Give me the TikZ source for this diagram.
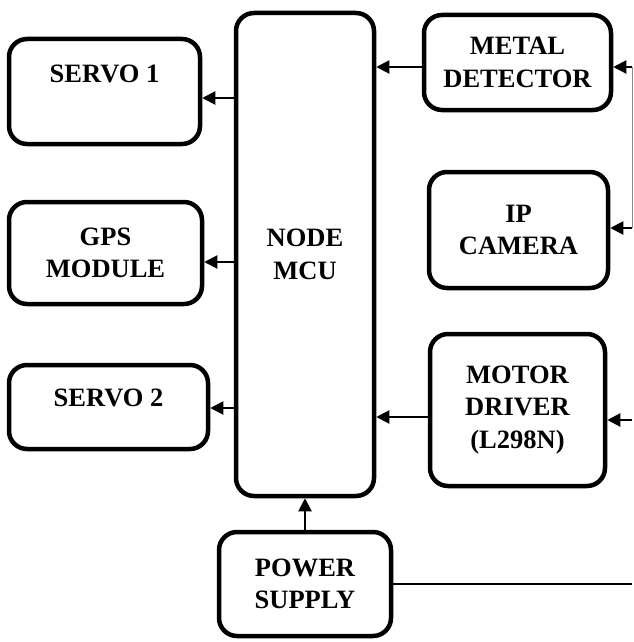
\documentclass[tikz,border=0pt]{standalone}
\usepackage{fontspec}
\setmainfont{Liberation Serif}
\usetikzlibrary{arrows.meta,positioning,calc}
\tikzset{
  blktext/.style={align=center, font=\fontsize{26.5}{32.5}\selectfont\bfseries},
  blkbox/.style={draw, line width=4.5pt, rounded corners=18pt, inner sep=0pt, blktext},
  blkarrow/.style={-{Triangle[length=13pt,width=13pt]}, line width=2pt},
  blkfeed/.style={draw=black!45, line width=1pt}
}
\begin{document}
\begin{tikzpicture}[x=1pt,y=-1pt]
\useasboundingbox (0,0) rectangle (633,642);

\node[blkbox, minimum width=191pt, minimum height=105pt, label={[blktext, yshift=18pt]center:SERVO 1}] (servoA) at (104.5,91.5) {};
\node[blkbox, minimum width=193pt, minimum height=102pt] (gps) at (105.5,253) {GPS\\MODULE};
\node[blkbox, minimum width=199pt, minimum height=84pt, label={[blktext, yshift=9pt]center:SERVO 2}] (servoB) at (108.5,407) {};
\node[blkbox, minimum width=138pt, minimum height=483pt] (mcu) at (305,254.5) {NODE\\MCU};

\node[blkbox, minimum width=187pt, minimum height=95pt] (metal) at (517.5,62.5) {METAL\\DETECTOR};
\node[blkbox, minimum width=179pt, minimum height=116pt] (ipcam) at (518.5,230) {IP\\CAMERA};
\node[blkbox, minimum width=175pt, minimum height=152pt] (motor) at (517.5,410) {MOTOR\\DRIVER\\(L298N)};
\node[blkbox, minimum width=172pt, minimum height=104pt] (power) at (305,584) {POWER\\SUPPLY};

\coordinate (edgeM) at (632,67);
\coordinate (edgeI) at (632,228);
\coordinate (edgeD) at (632,420);

\draw[blkarrow] ([yshift=-6.5pt]mcu.west |- servoA.east) -- ([yshift=-6.5pt]servoA.east);
\draw[blkarrow] ([yshift=-9pt]mcu.west |- gps.east) -- ([yshift=-9pt]gps.east);
\draw[blkarrow] ([yshift=-1pt]mcu.west |- servoB.east) -- ([yshift=-1pt]servoB.east);
\draw[blkarrow] ([yshift=-4.5pt]metal.west) -- ([yshift=-4.5pt]metal.west -| mcu.east);
\draw[blkarrow] ([yshift=-7pt]motor.west) -- ([yshift=-7pt]motor.west -| mcu.east);
\draw[blkarrow] (power.north) -- (mcu.south);

\draw[blkfeed] (edgeM) -- (edgeI);
\draw[blkarrow] (edgeM) -- (edgeM -| metal.east);
\draw[blkarrow] (edgeI) -- (edgeI -| ipcam.east);
\draw[blkarrow] (edgeD) -- (edgeD -| motor.east);
\draw[line width=2pt] (power.east) -- (power.east -| edgeD);
\end{tikzpicture}
\end{document}
